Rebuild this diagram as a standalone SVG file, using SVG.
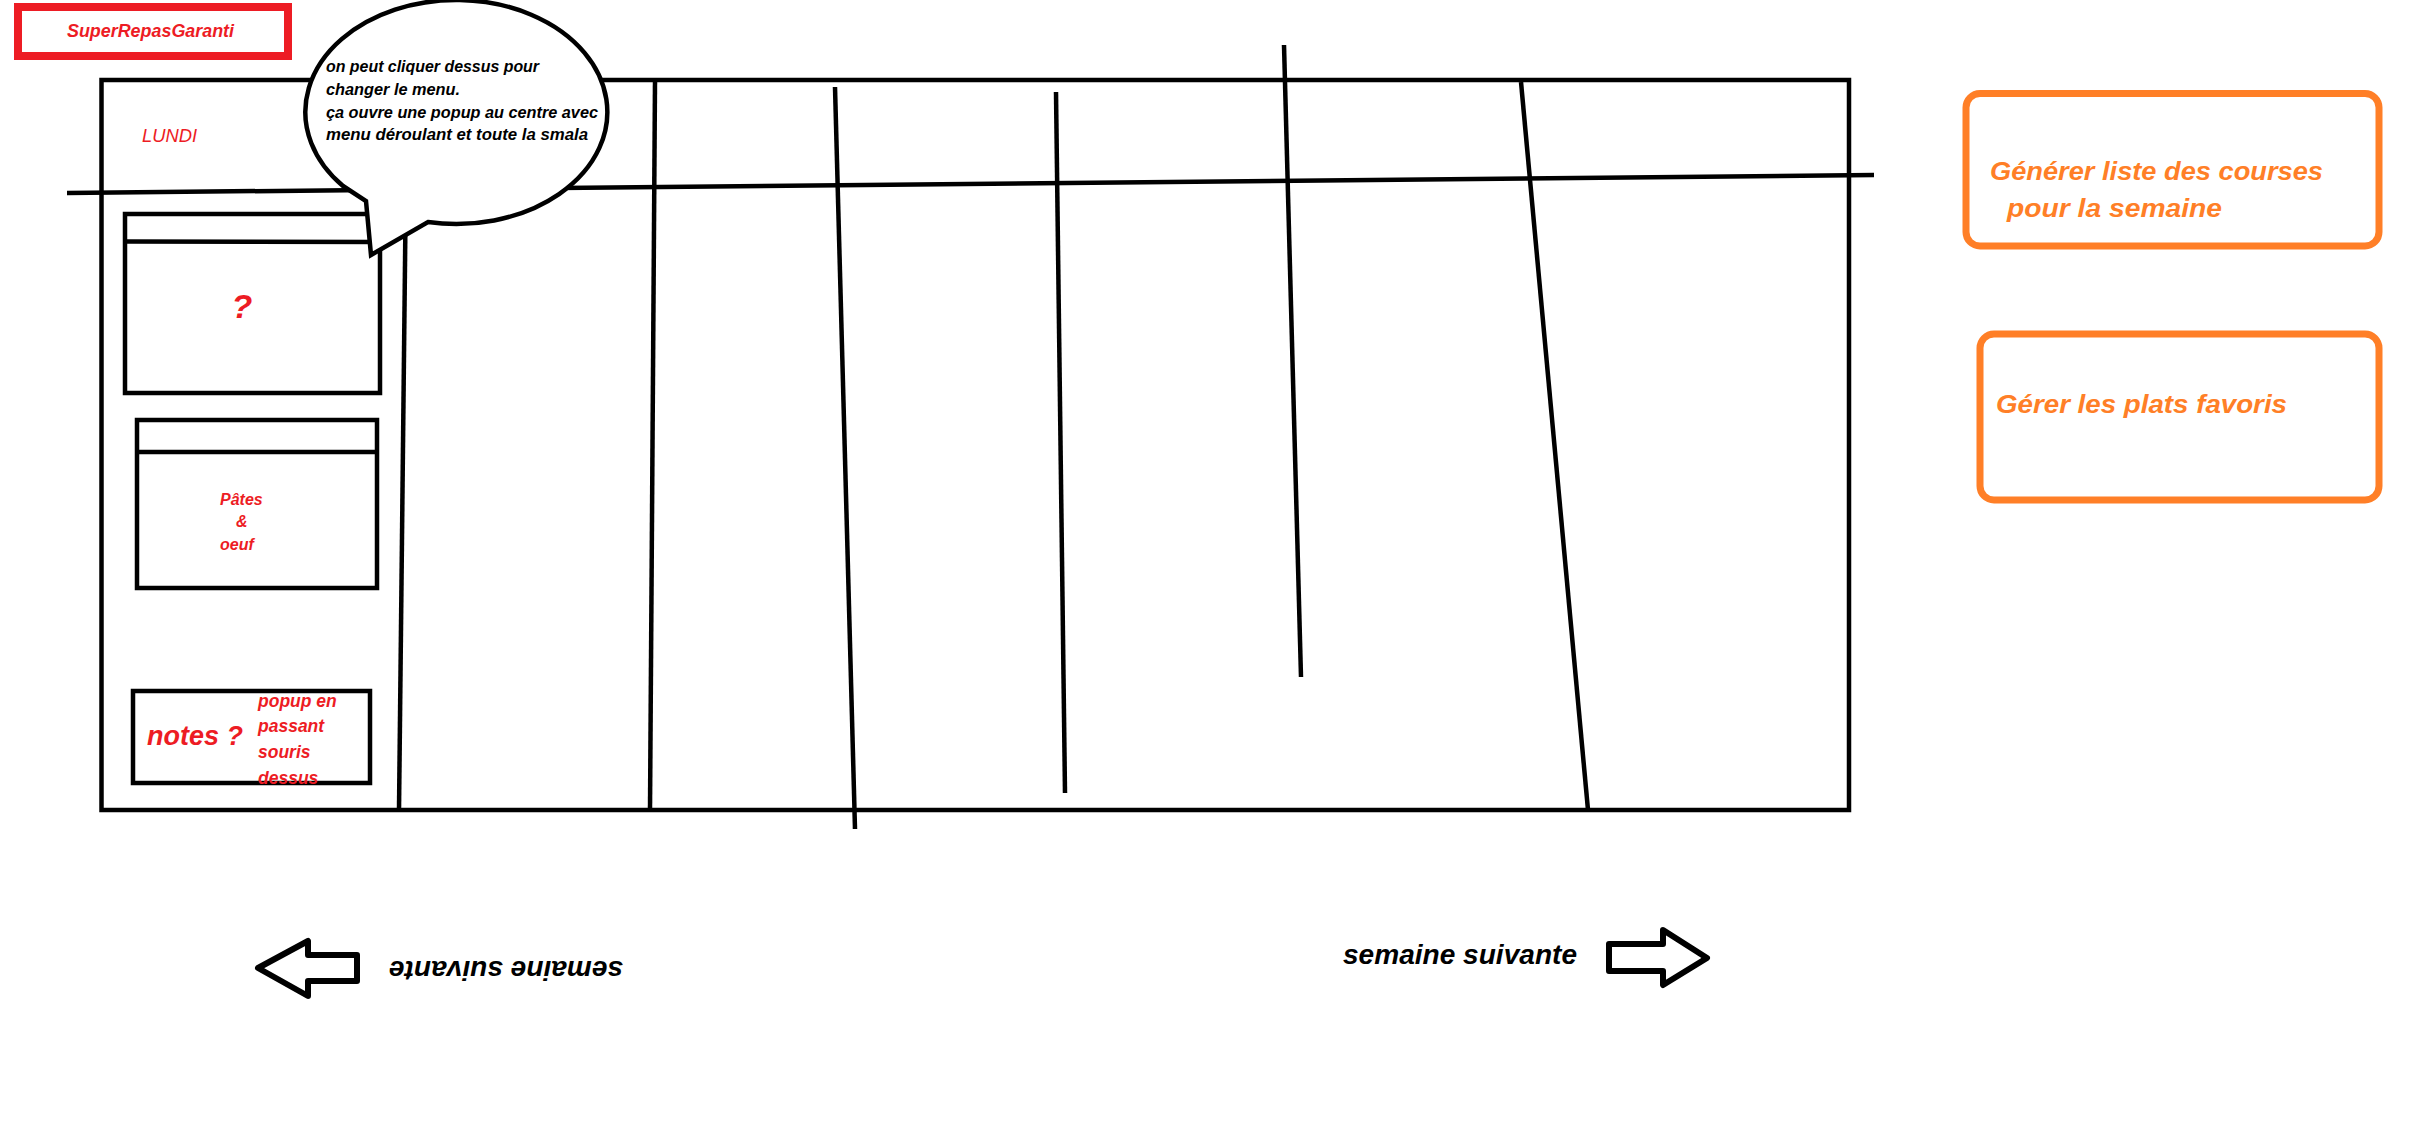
<svg xmlns="http://www.w3.org/2000/svg" width="2428" height="1134" viewBox="0 0 2428 1134">
<style>
  .ln{stroke:#000;stroke-width:4.5;fill:none;stroke-linecap:butt}
  .box{stroke:#000;stroke-width:4.5;fill:#fff}
  .t{font-family:"Liberation Sans",Arial,sans-serif;font-weight:bold;font-style:italic}
  .red{fill:#ED1C24}
  .blk{fill:#000}
  .org{fill:#FF7F27}
  .btn{stroke:#FF7F27;stroke-width:7;fill:#fff}
  .arr{stroke:#000;stroke-width:6;fill:#fff;stroke-linejoin:round}
</style>
<rect width="2428" height="1134" fill="#fff"/>

<g id="title">
  <rect x="18" y="7" width="270" height="49" fill="#fff" stroke="#ED1C24" stroke-width="8"/>
  <text class="t red" x="67" y="37" font-size="17.5" textLength="167" lengthAdjust="spacingAndGlyphs">SuperRepasGaranti</text>
</g>

<g id="week-grid">
  <rect x="101.5" y="80" width="1747.5" height="730" class="ln"/>
</g>

<g id="connectors">
  <line class="ln" x1="67" y1="193" x2="1874" y2="175"/>
  <line class="ln" x1="407" y1="82" x2="399" y2="810"/>
  <line class="ln" x1="655" y1="81" x2="650" y2="810"/>
  <line class="ln" x1="835" y1="87" x2="855" y2="829"/>
  <line class="ln" x1="1056" y1="92" x2="1065" y2="793"/>
  <line class="ln" x1="1284" y1="45" x2="1301" y2="677"/>
  <line class="ln" x1="1521" y1="82" x2="1588" y2="810"/>
</g>

<g id="lundi">
  <text x="142" y="142" font-family="Liberation Sans, Arial, sans-serif" font-style="italic" font-size="18" fill="#ED1C24" textLength="55" lengthAdjust="spacingAndGlyphs">LUNDI</text>
</g>

<g id="meal-1">
  <rect class="box" x="125" y="214" width="255" height="179"/>
  <line class="ln" x1="125" y1="241.5" x2="380" y2="242"/>
  <text class="t red" x="242" y="318" font-size="34" text-anchor="middle">?</text>
</g>

<g id="meal-2">
  <rect class="box" x="137" y="420" width="240" height="168"/>
  <line class="ln" x1="137" y1="452" x2="377" y2="452"/>
  <text class="t red" font-size="16">
    <tspan x="220" y="505">Pâtes</tspan>
    <tspan x="236" y="527">&amp;</tspan>
    <tspan x="220" y="550">oeuf</tspan>
  </text>
</g>

<g id="notes">
  <rect class="box" x="133" y="691" width="237" height="92"/>
  <text class="t red" x="147" y="745" font-size="27" textLength="96" lengthAdjust="spacingAndGlyphs">notes ?</text>
  <text class="t red" font-size="17.5">
    <tspan x="258" y="707">popup en</tspan>
    <tspan x="258" y="732">passant</tspan>
    <tspan x="258" y="758">souris</tspan>
    <tspan x="258" y="784">dessus</tspan>
  </text>
</g>

<g id="bubble">
  <path d="M343,186 L366,201 L371,255 L428,222 A151 112 0 1 0 343,186 Z" fill="#fff" stroke="#000" stroke-width="4.5" stroke-linejoin="miter"/>
  <text class="t blk" font-size="16">
    <tspan x="326" y="72" textLength="213" lengthAdjust="spacingAndGlyphs">on peut cliquer dessus pour</tspan>
    <tspan x="326" y="94.5" textLength="134" lengthAdjust="spacingAndGlyphs">changer le menu.</tspan>
    <tspan x="326" y="117.5" textLength="272" lengthAdjust="spacingAndGlyphs">ça ouvre une popup au centre avec</tspan>
    <tspan x="326" y="140" textLength="262" lengthAdjust="spacingAndGlyphs">menu déroulant et toute la smala</tspan>
  </text>
</g>

<g id="btn-courses">
  <rect class="btn" x="1966" y="93.5" width="413" height="152.5" rx="14" ry="14"/>
  <text class="t org" x="1990" y="180" font-size="26" textLength="333" lengthAdjust="spacingAndGlyphs">Générer liste des courses</text>
  <text class="t org" x="2007" y="217" font-size="26" textLength="215" lengthAdjust="spacingAndGlyphs">pour la semaine</text>
</g>

<g id="btn-favoris">
  <rect class="btn" x="1980" y="334" width="399" height="166" rx="14" ry="14"/>
  <text class="t org" x="1996" y="413" font-size="26" textLength="291" lengthAdjust="spacingAndGlyphs">Gérer les plats favoris</text>
</g>

<g id="prev-week">
  <polygon class="arr" points="258,968 308,941 308,955 357,955 357,981 308,981 308,996"/>
  <text class="t blk" x="506" y="961" font-size="27" text-anchor="middle" textLength="234" lengthAdjust="spacingAndGlyphs" transform="rotate(180 506 961)">semaine suivante</text>
</g>

<g id="next-week">
  <text class="t blk" x="1343" y="964" font-size="27" textLength="234" lengthAdjust="spacingAndGlyphs">semaine suivante</text>
  <polygon class="arr" points="1609,944 1663,944 1663,930 1707,958 1663,985 1663,971 1609,971"/>
</g>
</svg>
